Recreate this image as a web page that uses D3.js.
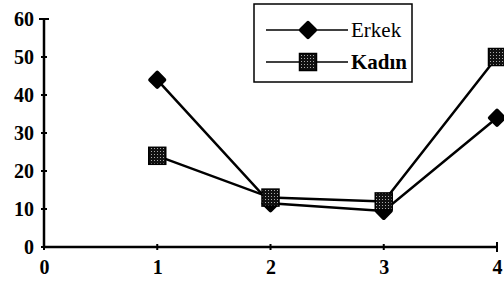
<!DOCTYPE html>
<html>
<head>
<meta charset="utf-8">
<script src="https://cdn.jsdelivr.net/npm/d3@7"></script>
<style>
  body { margin: 0; background: #fff; }
  svg { display: block; }
  .tick text { font-family: "Liberation Serif", "DejaVu Serif", serif; font-weight: bold; font-size: 20px; fill: #000; }
</style>
</head>
<body>
<div id="chart"></div>
<script>
var xValues = [1, 2, 3, 4];
var erkek = [44, 11.5, 9.5, 34];
var kadin = [24, 13, 12, 50];
var yTicks = [0, 10, 20, 30, 40, 50, 60];
var xTicks = [0, 1, 2, 3, 4];
var seriesNames = ['Erkek', 'Kadın'];

var width = 504, height = 288;
var x = d3.scaleLinear().domain([0, 4]).range([44, 497]);
var y = d3.scaleLinear().domain([0, 60]).range([247, 19]);

var svg = d3.select('#chart').append('svg')
  .attr('width', width).attr('height', height);

// stipple fill for the square markers
var pat = svg.append('defs').append('pattern')
  .attr('id', 'dots').attr('patternUnits', 'userSpaceOnUse')
  .attr('width', 3).attr('height', 3);
pat.append('rect').attr('width', 3).attr('height', 3).attr('fill', '#111');
pat.append('rect').attr('x', 1).attr('y', 1).attr('width', 1).attr('height', 1).attr('fill', '#aaa');

// axes
var yAxis = d3.axisLeft(y).tickValues(yTicks).tickSize(0).tickPadding(10).tickFormat(d3.format('d'));
var xAxis = d3.axisBottom(x).tickValues(xTicks).tickSize(0).tickPadding(13).tickFormat(d3.format('d'));

var gy = svg.append('g').attr('transform', 'translate(' + x(0) + ',0)').call(yAxis);
gy.select('.domain').remove();
var gx = svg.append('g').attr('transform', 'translate(0,' + y(0) + ')').call(xAxis);
gx.select('.domain').remove();

svg.append('line').attr('x1', x(0)).attr('x2', x(0)).attr('y1', y(60)).attr('y2', y(0))
  .attr('stroke', '#000').attr('stroke-width', 2.5);
svg.append('line').attr('x1', x(0)).attr('x2', x(4)).attr('y1', y(0)).attr('y2', y(0))
  .attr('stroke', '#000').attr('stroke-width', 2.5);

// tick marks crossing the axes
svg.append('g').selectAll('line').data(yTicks).enter().append('line')
  .attr('x1', function(d) { return d === 60 ? x(0) - 5 : x(0) - 3; })
  .attr('x2', function(d) { return d === 60 ? x(0) + 5 : x(0) + 3; })
  .attr('y1', function(d) { return y(d); }).attr('y2', function(d) { return y(d); })
  .attr('stroke', '#000').attr('stroke-width', 2);
svg.append('g').selectAll('line').data(xTicks).enter().append('line')
  .attr('x1', function(d) { return x(d); }).attr('x2', function(d) { return x(d); })
  .attr('y1', function(d) { return d === 4 ? y(0) - 5 : y(0) - 3; })
  .attr('y2', function(d) { return d === 4 ? y(0) + 5 : y(0) + 3; })
  .attr('stroke', '#000').attr('stroke-width', 2);

var line = d3.line()
  .x(function(d, i) { return x(xValues[i]); })
  .y(function(d) { return y(d); });

function drawDiamond(g, cx, cy) {
  g.append('rect').attr('x', -7).attr('y', -7).attr('width', 14).attr('height', 14)
    .attr('rx', 2)
    .attr('transform', 'translate(' + cx + ',' + cy + ') rotate(45)')
    .attr('fill', '#000');
}
function drawSquare(g, cx, cy) {
  g.append('rect').attr('x', cx - 8.5).attr('y', cy - 8.5).attr('width', 17).attr('height', 17)
    .attr('fill', 'url(#dots)').attr('stroke', '#000').attr('stroke-width', 1.5);
}

// series lines
svg.append('path').datum(erkek).attr('d', line)
  .attr('fill', 'none').attr('stroke', '#000').attr('stroke-width', 2.5);
svg.append('path').datum(kadin).attr('d', line)
  .attr('fill', 'none').attr('stroke', '#000').attr('stroke-width', 2.5);

var gm = svg.append('g');
erkek.forEach(function(v, i) { drawDiamond(gm, x(xValues[i]), y(v)); });
kadin.forEach(function(v, i) { drawSquare(gm, x(xValues[i]), y(v)); });

// legend
var lg = svg.append('g');
lg.append('rect').attr('x', 254).attr('y', 4).attr('width', 158).attr('height', 78)
  .attr('fill', '#fff').attr('stroke', '#000').attr('stroke-width', 1.5);
var rows = [30, 62];
rows.forEach(function(ry, i) {
  lg.append('line').attr('x1', 266).attr('x2', 348).attr('y1', ry).attr('y2', ry)
    .attr('stroke', '#000').attr('stroke-width', 1.5);
  if (i === 0) drawDiamond(lg, 308, ry); else drawSquare(lg, 308, ry);
  lg.append('text').attr('x', 351).attr('y', ry + 7)
    .attr('font-family', '"Liberation Serif", "DejaVu Serif", serif')
    .attr('font-size', 21)
    .attr('font-weight', i === 0 ? 'normal' : 'bold')
    .text(seriesNames[i]);
});
</script>
</body>
</html>
